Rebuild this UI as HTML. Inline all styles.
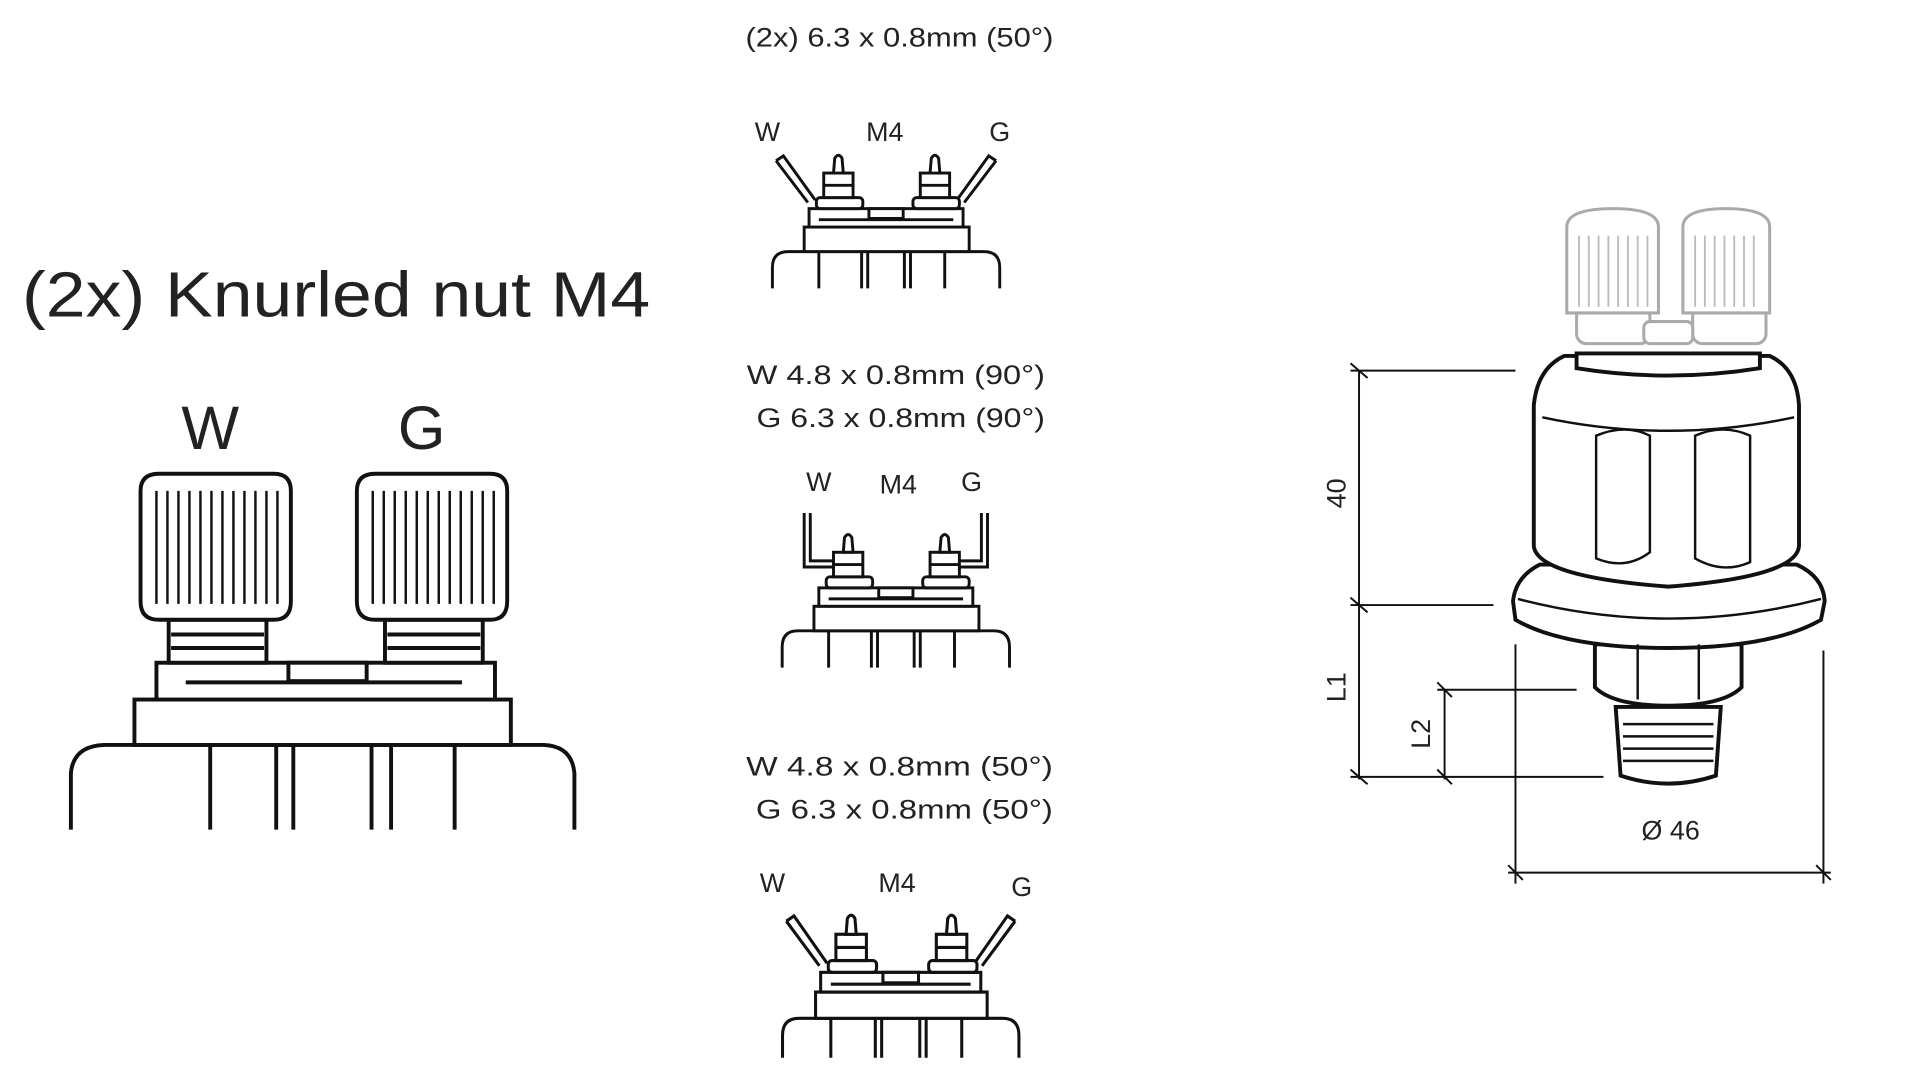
<!DOCTYPE html>
<html><head><meta charset="utf-8"><style>
html,body{margin:0;padding:0;background:#fff;width:1920px;height:1080px;overflow:hidden}
svg{display:block}
text{font-family:"Liberation Sans",sans-serif;fill:#222}
</style></head><body>
<svg width="1920" height="1080" viewBox="0 0 1571 880" preserveAspectRatio="none" xmlns="http://www.w3.org/2000/svg">
<defs>
<g id="base" fill="#fff" stroke="#111" stroke-width="2.4">
  <path d="M-93,112 L-93,95 Q-93,82 -80,82 L80,82 Q93,82 93,95 L93,112" fill="none"/>
  <path d="M-55,82V112M-20,82V112M-15,82V112M15,82V112M20,82V112M48,82V112" fill="none"/>
  <rect x="-67" y="62" width="135" height="20"/>
  <rect x="-63" y="47" width="126" height="15"/>
  <rect x="-14" y="47" width="28" height="8"/>
  <path d="M-55,56H55" fill="none"/>
  <g id="post">
    <rect x="-57" y="38" width="38" height="9" rx="3"/>
    <rect x="-51" y="18" width="24" height="20"/>
    <path d="M-43,18 L-42,6 Q-39,1 -36,6 L-35,18 Z"/>
    <path d="M-51,28H-27" fill="none"/>
  </g>
  <use href="#post" transform="translate(79,0)"/>
</g>
<g id="b50" fill="none" stroke="#111" stroke-width="2.4">
  <path d="M-90,8 L-84,4 L-58,40 M-90,8 L-64,42"/>
  <path d="M90,8 L84,4 L58,40 M90,8 L64,42"/>
</g>
</defs>

<text x="736" y="38" font-size="22" text-anchor="middle" textLength="252" lengthAdjust="spacingAndGlyphs">(2x) 6.3 x 0.8mm (50°)</text>
<text x="628" y="115" font-size="22" text-anchor="middle">W</text>
<text x="724" y="115" font-size="22" text-anchor="middle">M4</text>
<text x="818" y="115" font-size="22" text-anchor="middle">G</text>
<g transform="translate(725,123)"><use href="#b50"/><use href="#base"/></g>

<text x="18" y="258" font-size="52" textLength="514" lengthAdjust="spacingAndGlyphs">(2x) Knurled nut M4</text>
<text x="172" y="366" font-size="50" text-anchor="middle">W</text>
<text x="345" y="366" font-size="50" text-anchor="middle">G</text>

<g fill="#fff" stroke="#111" stroke-width="3.2">
  <path d="M58,676 L58,630 Q60,608 85,607 L445,607 Q468,608 470,630 L470,676" fill="none"/>
  <path d="M172,607V676M226,607V676M240,607V676M304,607V676M320,607V676M372,607V676" fill="none"/>
  <rect x="110" y="570" width="308" height="37"/>
  <rect x="128" y="540" width="277" height="30"/>
  <rect x="236" y="540" width="64" height="15"/>
  <path d="M152,556H378" fill="none"/>
  <rect x="138" y="505" width="80" height="35"/>
  <rect x="315" y="505" width="80" height="35"/>
  <path d="M140,517H216M140,528H216M317,517H393M317,528H393" fill="none"/>
  <path d="M115,400 Q115,386 130,386 L224,386 Q238,386 238,400 L238,490 Q238,505 224,505 L130,505 Q115,505 115,490 Z"/>
  <path d="M292,400 Q292,386 307,386 L401,386 Q415,386 415,400 L415,490 Q415,505 401,505 L307,505 Q292,505 292,490 Z"/>
</g>
<g stroke="#111" stroke-width="2">
  <path d="M128,400V492M137,400V492M146,400V492M155,400V492M164,400V492M173,400V492M182,400V492M191,400V492M200,400V492M209,400V492M218,400V492M227,400V492"/>
  <path d="M305,400V492M314,400V492M323,400V492M332,400V492M341,400V492M350,400V492M359,400V492M368,400V492M377,400V492M386,400V492M395,400V492M404,400V492"/>
</g>

<text x="733" y="313" font-size="22" text-anchor="middle" textLength="244" lengthAdjust="spacingAndGlyphs">W 4.8 x 0.8mm (90°)</text>
<text x="737" y="348" font-size="22" text-anchor="middle" textLength="236" lengthAdjust="spacingAndGlyphs">G 6.3 x 0.8mm (90°)</text>
<text x="670" y="400" font-size="22" text-anchor="middle">W</text>
<text x="735" y="402" font-size="22" text-anchor="middle">M4</text>
<text x="795" y="400" font-size="22" text-anchor="middle">G</text>
<g transform="translate(733,432)">
  <path d="M-75,-14 V30 H-44 M-70,-14 V25 H-44 M75,-14 V30 H44 M70,-14 V25 H44" fill="none" stroke="#111" stroke-width="2.4"/>
  <use href="#base"/>
</g>

<text x="736" y="632" font-size="22" text-anchor="middle" textLength="251" lengthAdjust="spacingAndGlyphs">W 4.8 x 0.8mm (50°)</text>
<text x="740" y="667" font-size="22" text-anchor="middle" textLength="243" lengthAdjust="spacingAndGlyphs">G 6.3 x 0.8mm (50°)</text>
<text x="632" y="727" font-size="22" text-anchor="middle">W</text>
<text x="734" y="727" font-size="22" text-anchor="middle">M4</text>
<text x="836" y="730" font-size="22" text-anchor="middle">G</text>
<g transform="translate(737,742) scale(1.04,1.07)"><use href="#b50"/><use href="#base"/></g>

<!-- sensor -->
<g fill="#fff" stroke="#aaa" stroke-width="2.5">
  <rect x="1290" y="250" width="60" height="30" rx="8"/>
  <rect x="1385" y="250" width="60" height="30" rx="8"/>
  <path d="M1282,185 Q1282,170 1320,170 Q1357,170 1357,185 L1357,255 L1282,255 Z"/>
  <path d="M1377,185 Q1377,170 1412,170 Q1448,170 1448,185 L1448,255 L1377,255 Z"/>
  <rect x="1345" y="262" width="40" height="18" rx="5"/>
</g>
<g stroke="#bbb" stroke-width="1.5">
  <path d="M1292,192V250M1300,192V250M1308,192V250M1316,192V250M1324,192V250M1332,192V250M1340,192V250M1348,192V250"/>
  <path d="M1387,192V250M1395,192V250M1403,192V250M1411,192V250M1419,192V250M1427,192V250M1435,192V250"/>
</g>
<g fill="#fff" stroke="#111" stroke-width="3.2">
  <path d="M1322,576 L1408,576 L1404,632 Q1365,645 1326,632 Z"/>
  <path d="M1305,525 L1425,525 L1425,560 Q1410,575 1365,575 Q1320,575 1305,560 Z"/>
  <path d="M1238,490 Q1240,470 1260,460 L1470,460 Q1492,470 1493,490 L1490,505 Q1450,528 1365,528 Q1280,528 1240,505 Z"/>
  <path d="M1255,330 Q1258,300 1280,290 L1448,290 Q1470,300 1472,330 L1472,445 Q1470,470 1365,478 Q1258,470 1255,445 Z"/>
  <path d="M1290,288 L1440,288 L1440,300 Q1365,312 1290,300 Z"/>
</g>
<g fill="none" stroke="#111" stroke-width="2">
  <path d="M1262,340 Q1365,362 1468,340"/>
  <path d="M1242,488 Q1365,520 1490,488"/>
  <path d="M1306,355 L1306,455 Q1330,465 1350,450 L1350,355 Q1330,345 1306,355 Z"/>
  <path d="M1387,355 L1387,455 Q1410,468 1432,458 L1432,355 Q1410,345 1387,355 Z"/>
  <path d="M1340,525V570M1390,525V570"/>
  <path d="M1328,590H1402M1328,600H1402M1328,610H1402M1328,620H1402"/>
</g>
<g fill="none" stroke="#111" stroke-width="1.6">
  <path d="M1112,302V635 M1105,302H1240 M1105,493H1222 M1105,633H1312"/>
  <path d="M1182,562V635 M1176,562H1290"/>
  <path d="M1240,525V720 M1492,530V720 M1234,711H1498"/>
  <path d="M1105,296L1119,308M1105,487L1119,499M1105,627L1119,639M1176,556L1188,568M1176,627L1188,639M1234,705L1246,717M1486,705L1498,717"/>
</g>
<text transform="translate(1101,402) rotate(-90)" font-size="22" text-anchor="middle">40</text>
<text transform="translate(1101,560) rotate(-90)" font-size="22" text-anchor="middle">L1</text>
<text transform="translate(1170,598) rotate(-90)" font-size="22" text-anchor="middle">L2</text>
<text x="1367" y="684" font-size="22" text-anchor="middle">Ø 46</text>
</svg>
</body></html>
